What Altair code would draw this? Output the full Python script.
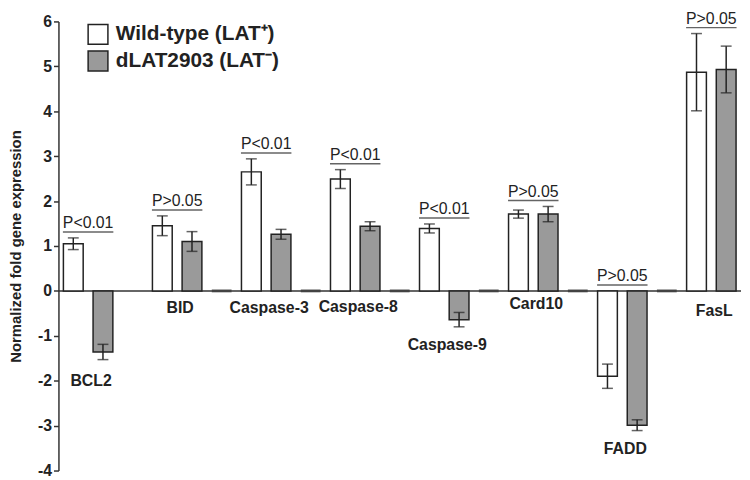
import altair as alt
import pandas as pd

# ---- data ----
genes = ["BCL2", "BID", "Caspase-3", "Caspase-8", "Caspase-9", "Card10", "FADD", "FasL"]
wt_values = [1.05, 1.45, 2.65, 2.49, 1.39, 1.71, -1.90, 4.87]
wt_errors = [0.13, 0.22, 0.29, 0.21, 0.10, 0.09, 0.27, 0.86]
dl_values = [-1.36, 1.10, 1.26, 1.44, -0.64, 1.71, -2.99, 4.93]
dl_errors = [0.17, 0.22, 0.11, 0.10, 0.16, 0.17, 0.12, 0.52]
p_texts = ["P<0.01", "P>0.05", "P<0.01", "P<0.01", "P<0.01", "P>0.05", "P>0.05", "P>0.05"]
label_levels = [-2.0, -0.39, -0.39, -0.35, -1.2, -0.30, -3.52, -0.44]
gap_genes = ["BID", "Caspase-3", "Caspase-8", "Caspase-9", "Card10", "FADD"]
y_ticks = [-4, -3, -2, -1, 0, 1, 2, 3, 4, 5, 6]

WT = "Wild-type (LAT\u207a)"
DL = "dLAT2903 (LAT\u207b)"
GAP = "gap"

FONT = "Liberation Sans"
INK = "#222222"

bars = pd.DataFrame({
    "gene": genes * 2,
    "series": [WT] * len(genes) + [DL] * len(genes),
    "value": wt_values + dl_values,
    "err": wt_errors + dl_errors,
})
bars["lo"] = bars["value"] - bars["err"]
bars["hi"] = bars["value"] + bars["err"]

ann = pd.DataFrame({"gene": genes, "p": p_texts, "label_y": label_levels})
ann["top"] = [max(0.0, a + b, c + d) for a, b, c, d in zip(wt_values, wt_errors, dl_values, dl_errors)]

gaps = pd.DataFrame({"gene": gap_genes, "series": [GAP] * len(gap_genes), "zero": [0.0] * len(gap_genes)})
base = pd.DataFrame({"zero": [0.0]})

W = 690
H = 454

x_scale = alt.Scale(domain=genes, range=[0, 720], paddingInner=0, paddingOuter=0)
xo_scale = alt.Scale(domain=[WT, DL, GAP], paddingInner=1 / 3, paddingOuter=1 / 6)
y_scale = alt.Scale(domain=[-4, 6], nice=False, zero=False)

X = alt.X("gene:N", scale=x_scale, axis=None, sort=genes)
XO = alt.XOffset("series:N", scale=xo_scale, sort=[WT, DL, GAP])

y_axis = alt.Axis(
    values=y_ticks, labelExpr="'' + datum.value", grid=False,
    title="Normalized fold gene expression",
    titleFont=FONT, titleFontSize=15, titleFontWeight="bold", titleColor=INK, titlePadding=14,
    labelFont=FONT, labelFontSize=16, labelFontWeight="bold", labelColor=INK, labelPadding=2,
    tickSize=5, tickColor="#333333", tickWidth=1.5,
    domainColor="#333333", domainWidth=1.5,
)

baseline = alt.Chart(base).mark_rule(color="#333333", strokeWidth=1.5).encode(
    y=alt.Y("zero:Q", scale=y_scale, axis=y_axis),
    x=alt.value(0),
    x2=alt.value(W),
)

bar_layer = alt.Chart(bars).mark_bar(stroke=INK, strokeWidth=1.5).encode(
    x=X,
    xOffset=XO,
    y=alt.Y("value:Q", scale=y_scale, axis=y_axis),
    y2=alt.datum(0),
    fill=alt.Fill(
        "series:N",
        scale=alt.Scale(domain=[WT, DL], range=["#ffffff", "#9a9a9a"]),
        legend=alt.Legend(
            title=None, orient="none", legendX=29, legendY=2, padding=0,
            symbolType="square", symbolSize=400, symbolStrokeColor=INK, symbolStrokeWidth=1.5,
            symbolOpacity=1,
            labelFont=FONT, labelFontSize=21, labelFontWeight="bold", labelColor=INK,
            labelOffset=7, rowPadding=1, labelLimit=400,
        ),
    ),
)

err_rule = alt.Chart(bars).mark_rule(color=INK, strokeWidth=1.5).encode(
    x=X, xOffset=XO,
    y=alt.Y("lo:Q", scale=y_scale, axis=y_axis),
    y2="hi:Q",
)
cap_hi = alt.Chart(bars).mark_tick(color=INK, size=11, thickness=1.5).encode(
    x=X, xOffset=XO, y=alt.Y("hi:Q", scale=y_scale, axis=y_axis),
)
cap_lo = alt.Chart(bars).mark_tick(color=INK, size=11, thickness=1.5).encode(
    x=X, xOffset=XO, y=alt.Y("lo:Q", scale=y_scale, axis=y_axis),
)

gap_layer = alt.Chart(gaps).mark_tick(color="#333333", size=20, thickness=3).encode(
    x=X, xOffset=XO, y=alt.Y("zero:Q", scale=y_scale, axis=y_axis),
)

bracket = alt.Chart(ann).mark_tick(color=INK, size=51, thickness=1.5, xOffset=-15, yOffset=-6).encode(
    x=X, y=alt.Y("top:Q", scale=y_scale, axis=y_axis),
)
p_text = alt.Chart(ann).mark_text(
    font=FONT, fontSize=16, color=INK, dx=-15, dy=-10, baseline="alphabetic", align="center"
).encode(
    x=X, y=alt.Y("top:Q", scale=y_scale, axis=y_axis), text="p:N",
)
gene_text = alt.Chart(ann).mark_text(
    font=FONT, fontSize=16, fontWeight="bold", color=INK, dx=-12, baseline="middle", align="center"
).encode(
    x=X, y=alt.Y("label_y:Q", scale=y_scale, axis=y_axis), text="gene:N",
)

chart = alt.layer(
    baseline, gap_layer, bar_layer, err_rule, cap_hi, cap_lo, bracket, p_text, gene_text
).properties(
    width=W, height=H, padding={"left": 0, "top": 0, "right": 0, "bottom": 0}
).configure(background="white").configure_view(stroke=None)

chart.save("out.html", embed_options={"renderer": "svg", "actions": False})
